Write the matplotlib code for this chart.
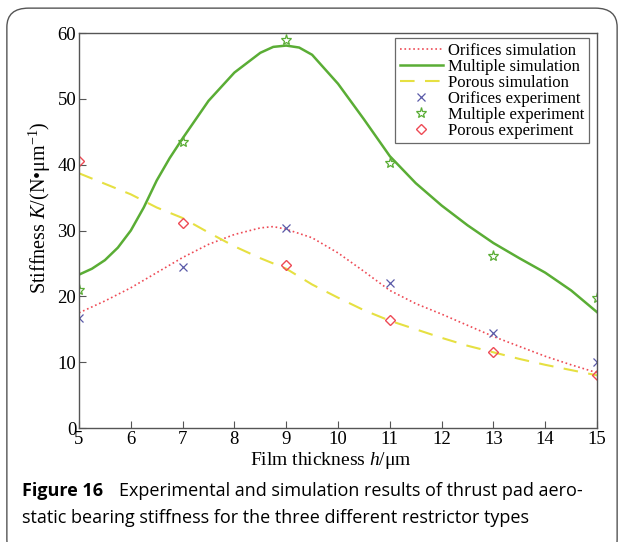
import numpy as np
import matplotlib
matplotlib.use("Agg")
import matplotlib.pyplot as plt
from matplotlib.patches import FancyBboxPatch

plt.rcParams['font.family'] = ['Liberation Serif', 'DejaVu Serif']
plt.rcParams['mathtext.fontset'] = 'custom'
plt.rcParams['mathtext.rm'] = 'Liberation Serif'
plt.rcParams['mathtext.it'] = 'Liberation Serif:italic'

# simulation curves
h_orifices = [5, 5.5, 6, 6.5, 7, 7.5, 8, 8.5, 8.75, 9, 9.5, 10, 10.5, 11, 11.5, 12, 12.5, 13, 13.5, 14, 14.5, 15]
orifices_sim = [17.5, 19.3, 21.3, 23.6, 25.9, 27.9, 29.4, 30.4, 30.6, 30.2, 28.9, 26.6, 23.8, 20.9, 18.9, 17.3, 15.6, 13.9, 12.4, 10.9, 9.6, 8.4]

h_multiple = [5, 5.25, 5.5, 5.75, 6, 6.25, 6.5, 6.75, 7, 7.5, 8, 8.5, 8.75, 9, 9.25, 9.5, 10, 10.5, 11, 11.5, 12, 12.5, 13, 13.5, 14, 14.5, 15]
multiple_sim = [23.3, 24.2, 25.5, 27.4, 30.0, 33.5, 37.6, 41.0, 44.0, 49.7, 54.0, 57.0, 57.9, 58.1, 57.8, 56.7, 52.3, 46.9, 41.3, 37.2, 33.8, 30.8, 28.1, 25.8, 23.6, 20.9, 17.6]

h_porous = [5, 5.5, 6, 6.5, 7, 7.5, 8, 8.5, 9, 9.5, 10, 10.5, 11, 11.5, 12, 12.5, 13, 13.5, 14, 14.5, 15]
porous_sim = [38.7, 37.1, 35.5, 33.5, 31.9, 29.7, 27.6, 25.8, 24.2, 21.8, 19.8, 17.9, 16.3, 15.0, 13.7, 12.5, 11.5, 10.5, 9.6, 8.8, 8.0]

# experiments
h_exp = [5, 7, 9, 11, 13, 15]
orifices_exp = [16.7, 24.4, 30.4, 22.0, 14.5, 10.1]
multiple_exp = [21.0, 43.4, 59.0, 40.3, 26.2, 19.8]
porous_exp = [40.6, 31.2, 24.7, 16.4, 11.6, 8.0]

red = '#ee4a55'
green = '#5aad35'
yellow = '#e6e042'
blue = '#5a5aa8'

fig = plt.figure(figsize=(6.24, 5.42), dpi=100)

# outer rounded frame of the figure panel
frame = FancyBboxPatch((0.011, -0.03), 0.978, 1.015, boxstyle="round,pad=0,rounding_size=0.035",
                       transform=fig.transFigure, fill=False, edgecolor='#555555', linewidth=1.0)
fig.patches.append(frame)

ax = fig.add_axes([0.1266, 0.2103, 0.8302, 0.7287])
ax.plot(h_orifices, orifices_sim, linestyle=':', color=red, linewidth=1.2, label='Orifices simulation')
ax.plot(h_multiple, multiple_sim, linestyle='-', color=green, linewidth=1.8, label='Multiple simulation')
ax.plot(h_porous, porous_sim, linestyle=(0, (7, 5)), color=yellow, linewidth=1.5, label='Porous simulation')
ax.plot(h_exp, orifices_exp, 'x', color=blue, markersize=5.5, markeredgewidth=0.9, label='Orifices experiment')
ax.plot(h_exp, multiple_exp, '*', color=green, markerfacecolor='none', markersize=8,
        markeredgewidth=0.9, label='Multiple experiment')
ax.plot(h_exp, porous_exp, 'D', color=red, markerfacecolor='none', markersize=5.5,
        markeredgewidth=1.0, label='Porous experiment')

ax.set_xlim(5, 15)
ax.set_ylim(0, 60)
ax.set_xticks(np.arange(5, 16, 1))
ax.set_yticks(np.arange(0, 61, 10))
ax.tick_params(direction='in', length=5, width=0.8, color='#555555', labelsize=13.5,
               top=False, right=False, pad=2)
for s in ax.spines.values():
    s.set_color('#555555')
    s.set_linewidth(1.0)

ax.set_xlabel(r'Film thickness $h$/μm', fontsize=14)
ax.xaxis.set_label_coords(0.486, -0.055)
ax.set_ylabel(r'Stiffness $K$/(N•μm$^{-1}$)', fontsize=14.5)
ax.yaxis.set_label_coords(-0.05, 0.559)

leg = ax.legend(loc='upper right', bbox_to_anchor=(0.99, 0.995), fontsize=12, frameon=True,
                fancybox=False, edgecolor='#444444', handlelength=2.6, handletextpad=0.3,
                labelspacing=0.0, borderpad=0.25, borderaxespad=0.2)
leg.get_frame().set_linewidth(0.9)

fig.text(0.036, 0.085, 'Figure 16', fontsize=13, fontweight='bold', family='Open Sans',
         ha='left', va='baseline')
fig.text(0.19, 0.085, 'Experimental and simulation results of thrust pad aero-', fontsize=13,
         family='Open Sans', ha='left', va='baseline')
fig.text(0.036, 0.035, 'static bearing stiffness for the three different restrictor types', fontsize=13,
         family='Open Sans', ha='left', va='baseline')

fig.savefig('out.png', dpi=100)
